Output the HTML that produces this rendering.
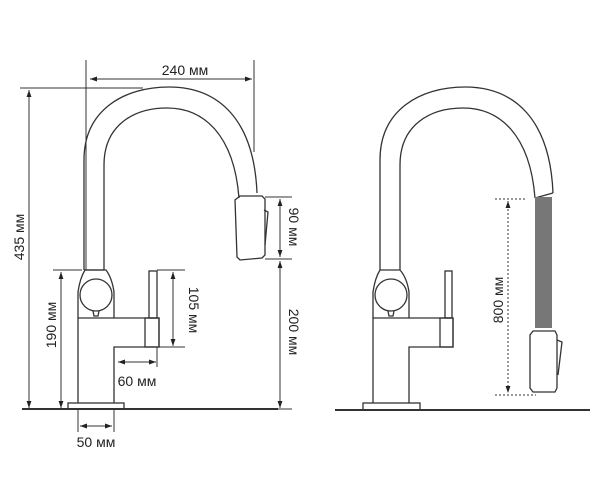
<!DOCTYPE html>
<html><head><meta charset="utf-8"><style>
html,body{margin:0;padding:0;background:#fff;width:600px;height:493px;overflow:hidden}
svg text{font-family:"Liberation Sans",sans-serif;font-size:14px;fill:#222}
</style></head><body>
<svg width="600" height="493" viewBox="0 0 600 493" xmlns="http://www.w3.org/2000/svg">
<defs>
<marker id="a" viewBox="0 0 10 10" refX="10" refY="5" markerWidth="7" markerHeight="7" orient="auto-start-reverse"><path d="M0,1.5 L10,5 L0,8.5z" fill="#222"/></marker>
</defs>
<g fill="none" stroke="#333" stroke-width="1.3">
<line x1="22" y1="409" x2="278" y2="409" stroke-width="2"/>
<rect x="68" y="403" width="56" height="6"/>
<path d="M78,403 L78,318 L159,318 L159,347 L114,347 L114,403"/>
<rect x="145" y="318" width="14" height="29"/>
<rect x="149" y="271" width="8" height="47"/>
<path d="M78,318 L78,292 Q80,278 85,270 L106,270 Q112,278 114,292 L114,318"/>
<circle cx="96" cy="295" r="16"/>
<path d="M93,311 L94,316 L98,316 L99,311"/>
<g transform="translate(-296,0)">
<path d="M380,270 L380,160 C380,110 420,87 465,87 C515,87 550,120 553,193"/>
<path d="M400,270 L400,165 C400,125 430,108 463,108 C500,108 530,135 535,198"/>
</g>
<line x1="84" y1="270" x2="104" y2="270"/>
<path d="M235,200 L240,196 L262,196 L265,199 L265,255 L262,258 L240,260 L237,257 Z"/>
<path d="M264,210 L268,212 L265,245"/>
<line x1="335" y1="410" x2="590" y2="410" stroke-width="2"/>
<rect x="363" y="403" width="57" height="7"/>
<path d="M373,403 L373,318 L453,318 L453,347 L409,347 L409,403"/>
<rect x="440" y="318" width="13" height="29"/>
<rect x="445" y="271" width="7" height="47"/>
<path d="M373,318 L373,292 Q375,278 380,270 L400,270 Q407,278 409,292 L409,318"/>
<circle cx="391" cy="295" r="16"/>
<path d="M388,311 L389,316 L393,316 L394,311"/>
<path d="M380,270 L380,160 C380,110 420,87 465,87 C515,87 550,120 553,193"/>
<path d="M400,270 L400,165 C400,125 430,108 463,108 C500,108 530,135 535,198"/>
<line x1="535" y1="198" x2="553" y2="193"/>
<rect x="535" y="197" width="17" height="131" fill="#777" stroke="none"/>
<path d="M533,331 L555,331 L557,335 L557,388 L555,392 L533,392 L530,388 L530,335 Z"/>
<path d="M557,340 L562,342 L558,375"/>
</g>
<g stroke="#333" stroke-width="1" fill="none">
<line x1="86" y1="60" x2="86" y2="270"/>
<line x1="254" y1="60" x2="254" y2="152"/>
<line x1="90" y1="79" x2="252" y2="79" marker-start="url(#a)" marker-end="url(#a)"/>
<line x1="20" y1="88" x2="143" y2="88"/>
<line x1="29" y1="90" x2="29" y2="408" marker-start="url(#a)" marker-end="url(#a)"/>
<line x1="53" y1="270" x2="82" y2="270"/>
<line x1="61" y1="272" x2="61" y2="408" marker-start="url(#a)" marker-end="url(#a)"/>
<line x1="157" y1="270" x2="185" y2="270"/>
<line x1="159" y1="347" x2="185" y2="347"/>
<line x1="173" y1="272" x2="173" y2="346" marker-start="url(#a)" marker-end="url(#a)"/>
<line x1="265" y1="197" x2="292" y2="197"/>
<line x1="265" y1="259" x2="292" y2="259"/>
<line x1="280" y1="199" x2="280" y2="257" marker-start="url(#a)" marker-end="url(#a)"/>
<line x1="280" y1="261" x2="280" y2="408" marker-start="url(#a)" marker-end="url(#a)"/>
<line x1="278" y1="409" x2="292" y2="409"/>
<line x1="157" y1="347" x2="157" y2="367"/>
<line x1="118" y1="362" x2="156" y2="362" marker-start="url(#a)" marker-end="url(#a)"/>
<line x1="78" y1="409" x2="78" y2="432"/>
<line x1="114" y1="409" x2="114" y2="432"/>
<line x1="80" y1="426" x2="112" y2="426" marker-start="url(#a)" marker-end="url(#a)"/>
<g stroke-dasharray="2,2">
<line x1="495" y1="199" x2="527" y2="199"/>
<line x1="495" y1="395" x2="536" y2="395"/>
<line x1="508" y1="201" x2="508" y2="393" marker-start="url(#a)" marker-end="url(#a)"/>
</g>
</g>
<text x="185" y="75" text-anchor="middle">240 мм</text>
<text x="137" y="386" text-anchor="middle">60 мм</text>
<text x="96" y="447" text-anchor="middle">50 мм</text>
<text transform="translate(24,237) rotate(-90)" text-anchor="middle">435 мм</text>
<text transform="translate(56,325) rotate(-90)" text-anchor="middle">190 мм</text>
<text transform="translate(189,310) rotate(90)" text-anchor="middle">105 мм</text>
<text transform="translate(289,227) rotate(90)" text-anchor="middle">90 мм</text>
<text transform="translate(289,332) rotate(90)" text-anchor="middle">200 мм</text>
<text transform="translate(503,300) rotate(-90)" text-anchor="middle">800 мм</text>
</svg>
</body></html>
